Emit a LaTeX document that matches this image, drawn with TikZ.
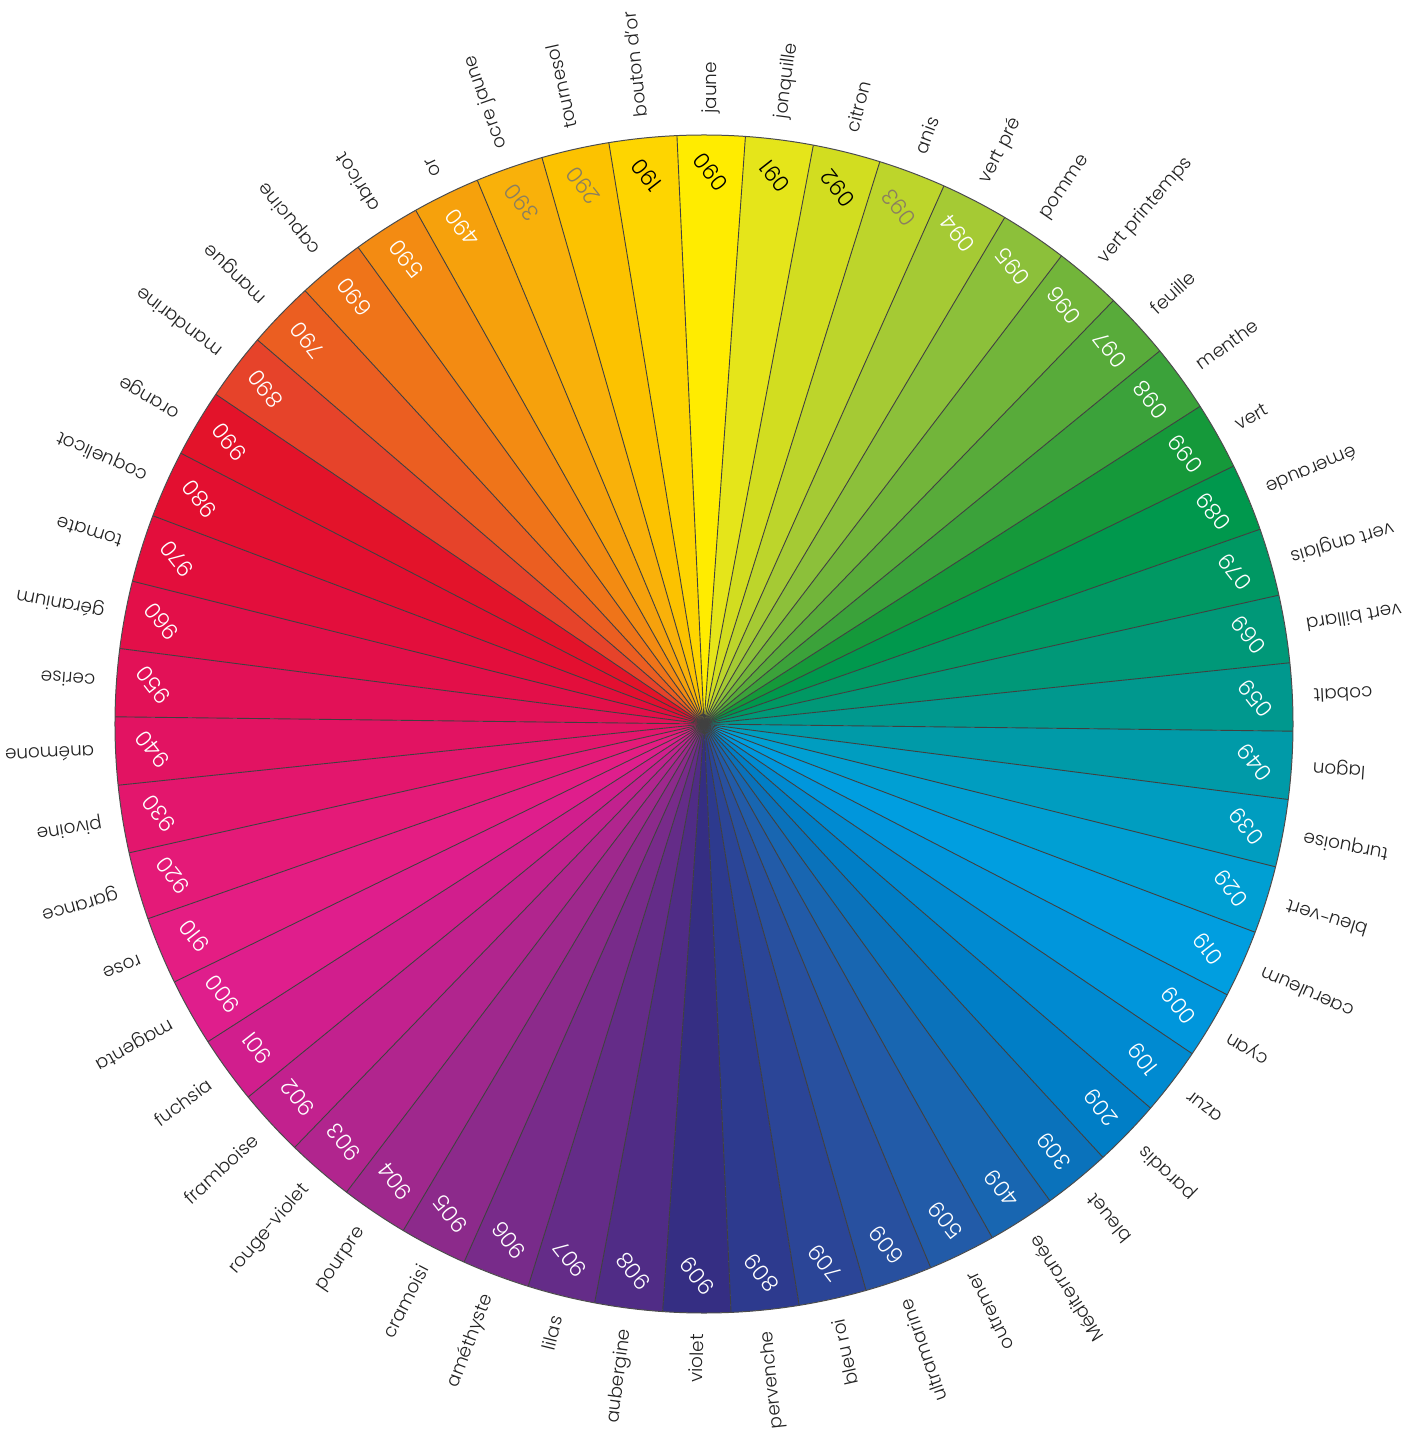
\documentclass[tikz,border=0pt]{standalone}
\usepackage{fontspec}
\setmainfont{Poppins}[UprightFont=* Light]
\definecolor{numgray}{HTML}{8A7F60}
\definecolor{lbl}{HTML}{222222}
\begin{document}
\begin{tikzpicture}[x=0.5pt,y=0.5pt,
  namelbl/.style={font=\fontsize{9.2}{11}\selectfont, text=lbl, inner sep=0pt},
  numlbl/.style={font=\fontsize{11}{13}\selectfont, inner sep=0pt, rotate=128},
  divider/.style={line width=0.45pt, draw=black!75},
  rim/.style={line width=0.5pt, draw=black!70}]
\useasboundingbox (-704,-710) rectangle (724,724);
\foreach \k/\num/\name/\hex/\nc in {
 0/090/jaune/FFEC00/black,
 1/190/bouton d'or/FED500/black,
 2/290/tournesol/FCC200/numgray,
 3/390/ocre jaune/F9B10A/numgray,
 4/490/or/F6A10C/white,
 5/590/abricot/F38B12/white,
 6/690/capucine/EF7419/white,
 7/790/mangue/EB5E21/white,
 8/890/mandarine/E6432A/white,
 9/990/orange/E3132A/white,
 10/980/coquelicot/E30F30/white,
 11/970/tomate/E30E3C/white,
 12/960/géranium/E30F49/white,
 13/950/cerise/E21157/white,
 14/940/anémone/E21362/white,
 15/930/pivoine/E3166D/white,
 16/920/garance/E41A78/white,
 17/910/rose/E41D83/white,
 18/900/magenta/DF1E8C/white,
 19/901/fuchsia/D11E8D/white,
 20/902/framboise/C2218E/white,
 21/903/rouge-violet/B1258E/white,
 22/904/pourpre/9F288D/white,
 23/905/cramoisi/8C2A8B/white,
 24/906/améthyste/782B8A/white,
 25/907/lilas/642C88/white,
 26/908/aubergine/502C86/white,
 27/909/violet/352E83/white,
 28/809/pervenche/2D3A8E/white,
 29/709/bleu roi/2B4597/white,
 30/609/ultramarine/28509F/white,
 31/509/outremer/225BA8/white,
 32/409/Méditerranée/1866B1/white,
 33/309/bleuet/0A72BB/white,
 34/209/paradis/007EC6/white,
 35/109/azur/008AD1/white,
 36/009/cyan/0096DC/white,
 37/019/caeruleum/009EE0/white,
 38/029/bleu-vert/009FD3/white,
 39/039/turquoise/009DC0/white,
 40/049/lagon/009AA8/white,
 41/059/cobalt/00988E/white,
 42/069/vert billard/009878/white,
 43/079/vert anglais/009863/white,
 44/089/émeraude/00984D/white,
 45/099/vert/15993A/white,
 46/098/menthe/3BA23A/white,
 47/097/feuille/58AB3A/white,
 48/096/vert printemps/72B53A/white,
 49/095/pomme/8CC03A/white,
 50/094/vert pré/A5CA34/white,
 51/093/anis/BDD52B/numgray,
 52/092/citron/D2DD20/black,
 53/091/jonquille/E5E51A/black}{
  \pgfmathsetmacro\th{89.3+\k*6.6667}
  \pgfmathsetmacro\ta{\th-3.3333}
  \pgfmathsetmacro\tb{\th+3.3333}
  \pgfmathsetmacro\tr{\th-180}
  \definecolor{sec}{HTML}{\hex}
  \fill[sec] (0,0) -- (\ta:589) arc[start angle=\ta, end angle=\tb, radius=589] -- cycle;
  \node[numlbl, text=\nc] (n\k) at (\th:552) {\num};
  \ifnum\k<19
    \node[namelbl, anchor=west, rotate=\th] (l\k) at (\th:610) {\name};
  \else
    \ifnum\k>44
      \node[namelbl, anchor=west, rotate=\th] (l\k) at (\th:610) {\name};
    \else
      \node[namelbl, anchor=east, rotate=\tr] (l\k) at (\th:610) {\name};
    \fi
  \fi
}
\foreach \k in {0,...,53}{
  \pgfmathsetmacro\ta{89.3+\k*6.6667-3.3333}
  \draw[divider] (0,0) -- (\ta:589);
}
\draw[rim] (0,0) circle[radius=589];
\end{tikzpicture}
\end{document}
